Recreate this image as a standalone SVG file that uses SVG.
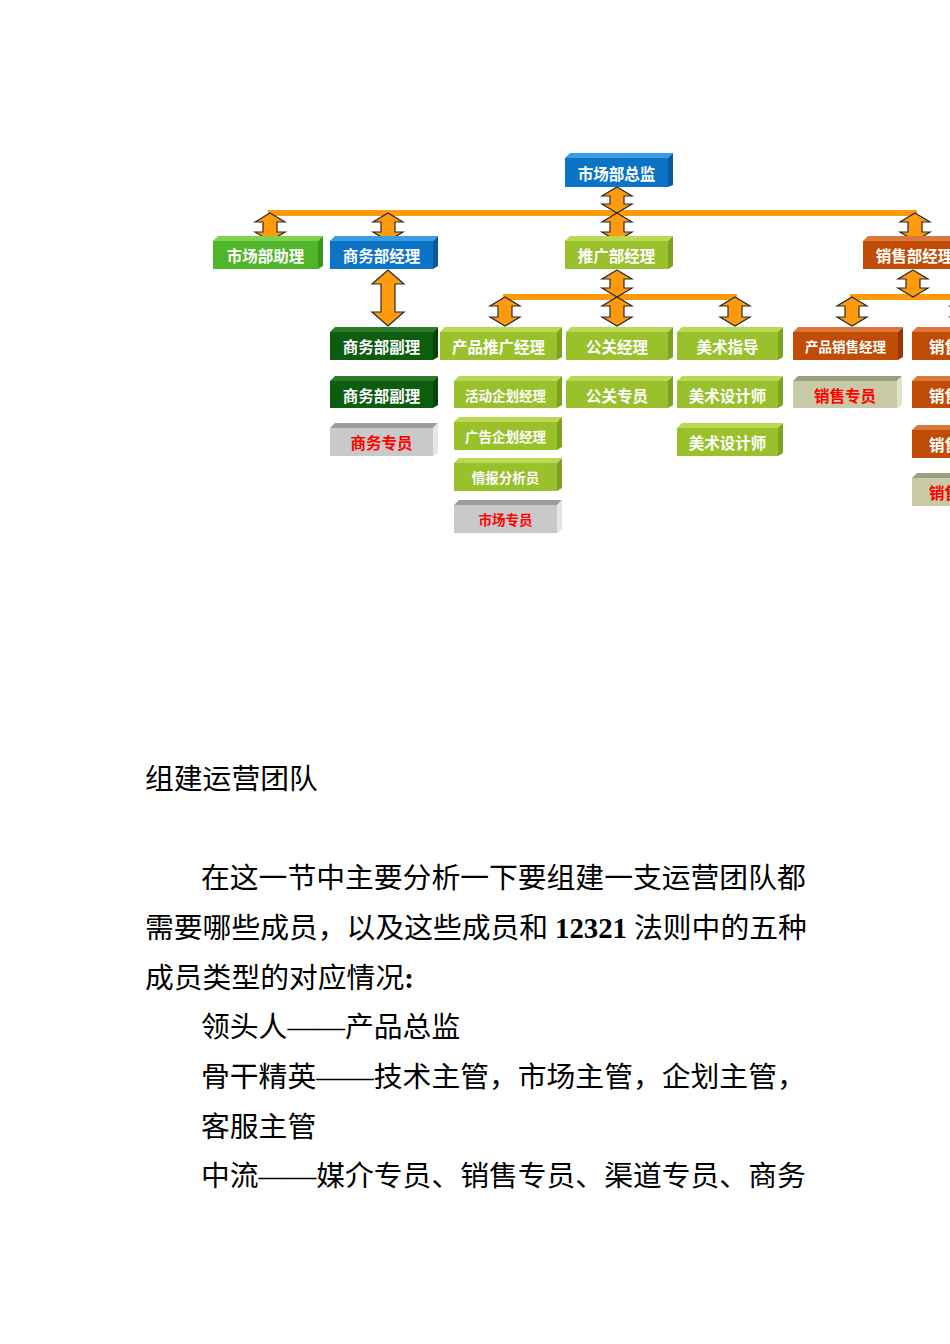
<svg xmlns="http://www.w3.org/2000/svg" width="950" height="1344" viewBox="0 0 950 1344">
<style>
.t{font-family:'Noto Sans CJK SC',sans-serif;font-weight:700;font-size:15.5px;text-anchor:middle;dominant-baseline:central;fill:#fff}
.s{font-size:13.5px}
.r{fill:#f00}
.blue .f{fill:#0b74c6}.blue .tp{fill:#3a9ee0}.blue .sd{fill:#075a9e}
.grn .f{fill:#4fb62a}.grn .tp{fill:#7fd24e}.grn .sd{fill:#3a961c}
.lime .f{fill:#99c12b}.lime .tp{fill:#b9d854}.lime .sd{fill:#7da31c}
.dg .f{fill:#0c5d10}.dg .tp{fill:#2b7b2b}.dg .sd{fill:#064306}
.or .f{fill:#c04c06}.or .tp{fill:#d9773c}.or .sd{fill:#963802}
.gr .f{fill:#c9c9c9}.gr .tp{fill:#9c9c9c}.gr .sd{fill:#e6e6e6}
.kh .f{fill:#c9c9a6}.kh .tp{fill:#9d9d82}.kh .sd{fill:#e2e2c6}
.bar{fill:#ff9a0c}
.ar{fill:#ff9a0c;stroke:#2a2a2a;stroke-width:1.2;stroke-linejoin:miter}
.body{font-family:'Liberation Serif','Noto Sans CJK SC',serif;font-size:28.8px;fill:#000}
</style>
<rect width="950" height="1344" fill="#fff"/>

<g id="connectors">
  <rect class="bar" x="268" y="210" width="649" height="6"/>
  <rect class="bar" x="503" y="294" width="234" height="6"/>
  <rect class="bar" x="850" y="294" width="110" height="6"/>
  <!-- double arrows: tip, head 9, half widths 15/7 -->
  <path class="ar" d="M270,213 L285,222 L277,222 L277,232 L285,232 L270,241 L255,232 L263,232 L263,222 L255,222 Z"/>
  <path class="ar" d="M388,213 L403,222 L395,222 L395,232 L403,232 L388,241 L373,232 L381,232 L381,222 L373,222 Z"/>
  <path class="ar" d="M617,187 L632,196 L624,196 L624,204 L632,204 L617,213 L602,204 L610,204 L610,196 L602,196 Z"/>
  <path class="ar" d="M617,213 L632,222 L624,222 L624,232 L632,232 L617,241 L602,232 L610,232 L610,222 L602,222 Z"/>
  <path class="ar" d="M915,213 L930,222 L922,222 L922,232 L930,232 L915,241 L900,232 L908,232 L908,222 L900,222 Z"/>
  <path class="ar" d="M388,270 L404,284 L395,284 L395,312 L404,312 L388,326 L372,312 L381,312 L381,284 L372,284 Z"/>
  <path class="ar" d="M617,270 L632,279 L624,279 L624,288 L632,288 L617,297 L602,288 L610,288 L610,279 L602,279 Z"/>
  <path class="ar" d="M617,297 L632,306 L624,306 L624,317 L632,317 L617,326 L602,317 L610,317 L610,306 L602,306 Z"/>
  <path class="ar" d="M505,297 L520,306 L512,306 L512,317 L520,317 L505,326 L490,317 L498,317 L498,306 L490,306 Z"/>
  <path class="ar" d="M735,297 L750,306 L742,306 L742,317 L750,317 L735,326 L720,317 L728,317 L728,306 L720,306 Z"/>
  <path class="ar" d="M913,270 L928,279 L920,279 L920,288 L928,288 L913,297 L898,288 L906,288 L906,279 L898,279 Z"/>
  <path class="ar" d="M852,297 L867,306 L859,306 L859,317 L867,317 L852,326 L837,317 L845,317 L845,306 L837,306 Z"/>
  <path class="ar" d="M965,297 L980,306 L972,306 L972,317 L980,317 L965,326 L950,317 L958,317 L958,306 L950,306 Z"/>
</g>

<g id="n-zongjian" class="blue">
  <polygon class="tp" points="565,158 570,153 673,153 668,158"/>
  <polygon class="sd" points="668,158 673,153 673,185 668,187"/>
  <rect class="f" x="565" y="158" width="103" height="29"/>
  <text class="t" x="616.5" y="172.5">市场部总监</text>
</g>
<g id="n-zhuli" class="grn">
  <polygon class="tp" points="213,241 218,236 323,236 318,241"/>
  <polygon class="sd" points="318,241 323,236 323,266 318,269"/>
  <rect class="f" x="213" y="241" width="105" height="28"/>
  <text class="t" x="265.5" y="255">市场部助理</text>
</g>
<g id="n-shangwu-jingli" class="blue">
  <polygon class="tp" points="330,241 335,236 438,236 433,241"/>
  <polygon class="sd" points="433,241 438,236 438,266 433,269"/>
  <rect class="f" x="330" y="241" width="103" height="28"/>
  <text class="t" x="381.5" y="255">商务部经理</text>
</g>
<g id="n-tuiguang" class="lime">
  <polygon class="tp" points="565,241 570,236 673,236 668,241"/>
  <polygon class="sd" points="668,241 673,236 673,266 668,269"/>
  <rect class="f" x="565" y="241" width="103" height="28"/>
  <text class="t" x="616.5" y="255">推广部经理</text>
</g>
<g id="n-xiaoshou" class="or">
  <polygon class="tp" points="863,241 868,236 971,236 966,241"/>
  <rect class="f" x="863" y="241" width="103" height="28"/>
  <text class="t" x="914.5" y="255">销售部经理</text>
</g>

<g id="n-shangwu-fuli-1" class="dg">
  <polygon class="tp" points="330,332 335,327 438,327 433,332"/>
  <polygon class="sd" points="433,332 438,327 438,357 433,360"/>
  <rect class="f" x="330" y="332" width="103" height="28"/>
  <text class="t" x="381.5" y="346">商务部副理</text>
</g>
<g id="n-chanpin-tuiguang" class="lime">
  <polygon class="tp" points="440,332 445,327 562,327 557,332"/>
  <polygon class="sd" points="557,332 562,327 562,357 557,360"/>
  <rect class="f" x="440" y="332" width="117" height="28"/>
  <text class="t" x="498.5" y="346">产品推广经理</text>
</g>
<g id="n-gongguan" class="lime">
  <polygon class="tp" points="566,332 571,327 673,327 668,332"/>
  <polygon class="sd" points="668,332 673,327 673,357 668,360"/>
  <rect class="f" x="566" y="332" width="102" height="28"/>
  <text class="t" x="617" y="346">公关经理</text>
</g>
<g id="n-meishu-zhidao" class="lime">
  <polygon class="tp" points="677,332 682,327 783,327 778,332"/>
  <polygon class="sd" points="778,332 783,327 783,357 778,360"/>
  <rect class="f" x="677" y="332" width="101" height="28"/>
  <text class="t" x="727.5" y="346">美术指导</text>
</g>
<g id="n-chanpin-xiaoshou" class="or">
  <polygon class="tp" points="793,332 798,327 903,327 898,332"/>
  <polygon class="sd" points="898,332 903,327 903,357 898,360"/>
  <rect class="f" x="793" y="332" width="105" height="28"/>
  <text class="t s" x="845.5" y="346">产品销售经理</text>
</g>
<g id="n-xiaoshou-a" class="or">
  <polygon class="tp" points="912,332 917,327 1020,327 1015,332"/>
  <rect class="f" x="912" y="332" width="103" height="28"/>
  <text class="t" x="929" y="346" style="text-anchor:start">销售</text>
</g>

<g id="n-shangwu-fuli-2" class="dg">
  <polygon class="tp" points="330,381 335,376 438,376 433,381"/>
  <polygon class="sd" points="433,381 438,376 438,405 433,408"/>
  <rect class="f" x="330" y="381" width="103" height="27"/>
  <text class="t" x="381.5" y="394.5">商务部副理</text>
</g>
<g id="n-huodong" class="lime">
  <polygon class="tp" points="454,381 459,376 562,376 557,381"/>
  <polygon class="sd" points="557,381 562,376 562,405 557,408"/>
  <rect class="f" x="454" y="381" width="103" height="27"/>
  <text class="t s" x="505.5" y="394.5">活动企划经理</text>
</g>
<g id="n-gongguan-zhuanyuan" class="lime">
  <polygon class="tp" points="566,381 571,376 673,376 668,381"/>
  <polygon class="sd" points="668,381 673,376 673,405 668,408"/>
  <rect class="f" x="566" y="381" width="102" height="27"/>
  <text class="t" x="617" y="394.5">公关专员</text>
</g>
<g id="n-meishu-sheji-1" class="lime">
  <polygon class="tp" points="677,381 682,376 783,376 778,381"/>
  <polygon class="sd" points="778,381 783,376 783,405 778,408"/>
  <rect class="f" x="677" y="381" width="101" height="27"/>
  <text class="t" x="727.5" y="394.5">美术设计师</text>
</g>
<g id="n-xiaoshou-zhuanyuan" class="kh">
  <polygon class="tp" points="793,381 798,376 902,376 897,381"/>
  <polygon class="sd" points="897,381 902,376 902,405 897,408"/>
  <rect class="f" x="793" y="381" width="104" height="27"/>
  <text class="t r" x="845" y="394.5">销售专员</text>
</g>
<g id="n-xiaoshou-b" class="or">
  <polygon class="tp" points="912,381 917,376 1020,376 1015,381"/>
  <rect class="f" x="912" y="381" width="103" height="27"/>
  <text class="t" x="929" y="394.5" style="text-anchor:start">销售</text>
</g>

<g id="n-shangwu-zhuanyuan" class="gr">
  <polygon class="tp" points="330,428 335,423 438,423 433,428"/>
  <polygon class="sd" points="433,428 438,423 438,453 433,456"/>
  <rect class="f" x="330" y="428" width="103" height="28"/>
  <text class="t r" x="381.5" y="442">商务专员</text>
</g>
<g id="n-guanggao" class="lime">
  <polygon class="tp" points="454,422 459,417 562,417 557,422"/>
  <polygon class="sd" points="557,422 562,417 562,447 557,450"/>
  <rect class="f" x="454" y="422" width="103" height="28"/>
  <text class="t s" x="505.5" y="436">广告企划经理</text>
</g>
<g id="n-meishu-sheji-2" class="lime">
  <polygon class="tp" points="677,428 682,423 783,423 778,428"/>
  <polygon class="sd" points="778,428 783,423 783,453 778,456"/>
  <rect class="f" x="677" y="428" width="101" height="28"/>
  <text class="t" x="727.5" y="442">美术设计师</text>
</g>
<g id="n-xiaoshou-c" class="or">
  <polygon class="tp" points="912,430 917,425 1020,425 1015,430"/>
  <rect class="f" x="912" y="430" width="103" height="28"/>
  <text class="t" x="929" y="444" style="text-anchor:start">销售</text>
</g>

<g id="n-qingbao" class="lime">
  <polygon class="tp" points="454,463 459,458 562,458 557,463"/>
  <polygon class="sd" points="557,463 562,458 562,488 557,491"/>
  <rect class="f" x="454" y="463" width="103" height="28"/>
  <text class="t s" x="505.5" y="477">情报分析员</text>
</g>
<g id="n-xiaoshou-d" class="kh">
  <polygon class="tp" points="912,478 917,473 1020,473 1015,478"/>
  <rect class="f" x="912" y="478" width="103" height="28"/>
  <text class="t r" x="929" y="492" style="text-anchor:start">销售</text>
</g>

<g id="n-shichang-zhuanyuan" class="gr">
  <polygon class="tp" points="454,505 459,500 562,500 557,505"/>
  <polygon class="sd" points="557,505 562,500 562,530 557,533"/>
  <rect class="f" x="454" y="505" width="103" height="28"/>
  <text class="t s r" x="505.5" y="519">市场专员</text>
</g>

<g id="body-text" class="body">
  <text x="145" y="789">组建运营团队</text>
  <text x="201" y="888">在这一节中主要分析一下要组建一支运营团队都</text>
  <text y="938"><tspan x="145">需要哪些成员，以及这些成员和</tspan><tspan x="555" font-weight="700">12321</tspan><tspan x="634">法则中的五种</tspan></text>
  <text x="145" y="988">成员类型的对应情况<tspan font-weight="700">:</tspan></text>
  <text x="201" y="1037">领头人——产品总监</text>
  <text x="201" y="1087">骨干精英——技术主管，市场主管，企划主管，</text>
  <text x="201" y="1137">客服主管</text>
  <text x="201" y="1186">中流——媒介专员、销售专员、渠道专员、商务</text>
</g>
</svg>
